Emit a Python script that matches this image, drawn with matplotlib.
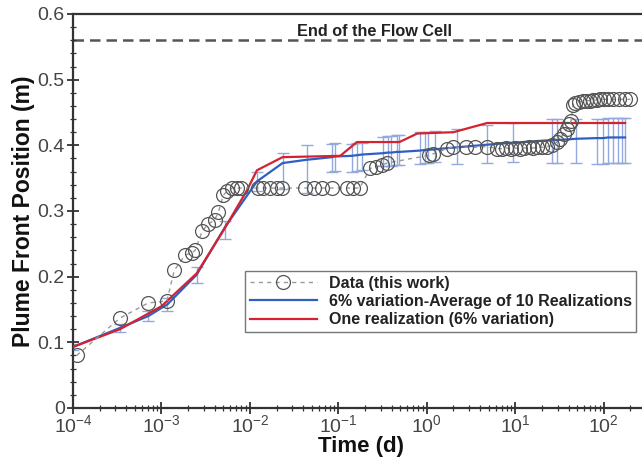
import matplotlib
matplotlib.use("Agg")
import matplotlib.pyplot as plt
from matplotlib.ticker import FixedLocator, LogLocator, MultipleLocator, LogFormatterMathtext, NullFormatter

plt.rcParams['font.family'] = ['Liberation Sans', 'DejaVu Sans']
plt.rcParams['mathtext.fontset'] = 'custom'
plt.rcParams['mathtext.rm'] = 'Liberation Sans'
plt.rcParams['mathtext.it'] = 'Liberation Sans'
plt.rcParams['mathtext.bf'] = 'Liberation Sans:bold'

# ---- data -------------------------------------------------------------
data_t = [1.1e-4, 3.4e-4, 7.1e-4, 1.15e-3, 1.4e-3, 1.86e-3, 2.2e-3, 2.4e-3, 2.9e-3, 3.4e-3,
          4.0e-3, 4.4e-3, 5.0e-3, 5.5e-3, 6.3e-3, 7.1e-3, 7.9e-3, 0.0123, 0.0141, 0.017,
          0.0204, 0.0229, 0.0417, 0.0537, 0.066, 0.085, 0.126, 0.145, 0.174, 0.229,
          0.269, 0.309, 0.355, 1.07, 1.17, 1.7, 2.0, 2.8, 3.5, 4.8,
          6.2, 7.1, 7.9, 8.9, 10.0, 11.2, 12.6, 14.1, 15.8, 17.8,
          20.0, 22.9, 26.3, 29.5, 31.6, 35.5, 38.0, 40.7, 42.7, 44.7,
          47.9, 52.5, 57.5, 63.0, 69.0, 76.0, 83.0, 91.0, 100.0, 112.0,
          126.0, 148.0, 174.0, 200.0]
data_y = [0.080, 0.137, 0.160, 0.163, 0.210, 0.233, 0.236, 0.240, 0.270, 0.280,
          0.287, 0.298, 0.324, 0.330, 0.335, 0.335, 0.335, 0.335, 0.335, 0.335,
          0.335, 0.335, 0.335, 0.335, 0.335, 0.335, 0.335, 0.335, 0.335, 0.365,
          0.367, 0.370, 0.373, 0.385, 0.387, 0.395, 0.397, 0.397, 0.397, 0.398,
          0.395, 0.395, 0.396, 0.395, 0.396, 0.395, 0.396, 0.397, 0.396, 0.397,
          0.397, 0.398, 0.400, 0.405, 0.410, 0.418, 0.425, 0.432, 0.437, 0.462,
          0.465, 0.466, 0.467, 0.468, 0.468, 0.469, 0.469, 0.470, 0.470, 0.470,
          0.470, 0.470, 0.470, 0.470]

avg_t = [1e-4, 3.4e-4, 7.1e-4, 1.17e-3, 2.5e-3, 5.2e-3, 0.012, 0.0234, 0.0437, 0.085,
         0.091, 0.141, 0.162, 0.186, 0.316, 0.363, 0.398, 0.457, 0.49, 0.83,
         0.95, 1.02, 1.23, 2.19, 4.8, 9.3, 26.3, 29.5, 49.0, 83.0,
         98.0, 112.0, 126.0, 145.0, 162.0, 174.0]
avg_y = [0.093, 0.122, 0.140, 0.158, 0.203, 0.275, 0.345, 0.373, 0.378, 0.382,
         0.383, 0.384, 0.385, 0.386, 0.388, 0.389, 0.389, 0.390, 0.390, 0.392,
         0.393, 0.393, 0.394, 0.397, 0.401, 0.404, 0.408, 0.408, 0.410, 0.411,
         0.411, 0.412, 0.412, 0.412, 0.412, 0.412]
avg_err_lo = [0.005, 0.006, 0.007, 0.010, 0.012, 0.017, 0.015, 0.040, 0.050, 0.022,
              0.022, 0.024, 0.024, 0.024, 0.020, 0.020, 0.020, 0.020, 0.020, 0.020,
              0.020, 0.020, 0.020, 0.025, 0.028, 0.030, 0.035, 0.035, 0.037, 0.039,
              0.039, 0.039, 0.039, 0.039, 0.039, 0.039]
avg_err_hi = [0.005, 0.006, 0.007, 0.010, 0.012, 0.010, 0.015, 0.015, 0.022, 0.020,
              0.020, 0.018, 0.018, 0.018, 0.025, 0.025, 0.025, 0.025, 0.025, 0.028,
              0.028, 0.028, 0.028, 0.028, 0.030, 0.030, 0.032, 0.032, 0.030, 0.029,
              0.029, 0.029, 0.029, 0.029, 0.029, 0.029]

one_t = [1e-4, 3.4e-4, 1.0e-3, 2.5e-3, 5.0e-3, 9.3e-3, 0.012, 0.0234, 0.105, 0.162,
         0.49, 0.78, 2.0, 4.8, 174.0]
one_y = [0.093, 0.120, 0.155, 0.205, 0.270, 0.332, 0.362, 0.382, 0.384, 0.405,
         0.405, 0.418, 0.420, 0.434, 0.434]

flow_cell_end = 0.56

x_ticks = [1e-4, 1e-3, 1e-2, 1e-1, 1e0, 1e1, 1e2]
y_ticks = [0.0, 0.1, 0.2, 0.3, 0.4, 0.5, 0.6]

labels = ["Data (this work)", "6% variation-Average of 10 Realizations",
          "One realization (6% variation)"]

# ---- figure -----------------------------------------------------------
W, H = 642, 458
fig = plt.figure(figsize=(W / 100, H / 100), dpi=100)
ax_left, ax_right = 73, 648
ax_bottom, ax_top = 408, 14
ax = fig.add_axes([ax_left / W, (H - ax_bottom) / H, (ax_right - ax_left) / W,
                   (ax_bottom - ax_top) / H])

ax.set_xscale('log')
ax.set_xlim(1e-4, 10 ** 2.5)
ax.set_ylim(0, 0.6)

blue = '#2f5fc4'
red = '#d4222e'

ax.errorbar(avg_t, avg_y, yerr=[avg_err_lo, avg_err_hi], fmt='none',
            ecolor='#93a9dd', elinewidth=1.0, capsize=4, capthick=1.0, zorder=2)
ax.plot(avg_t, avg_y, color=blue, lw=1.6, zorder=3, label=labels[1])
ax.plot(one_t, one_y, color=red, lw=1.6, zorder=4, label=labels[2])
ax.plot(data_t, data_y, color='#9a9a9a', ls=(0, (3, 3)), lw=1.0,
        marker='o', ms=10, mfc='none', mec='#555555', mew=0.9, zorder=5,
        label=labels[0])

ax.axhline(flow_cell_end, color='#555555', lw=1.8, ls=(0, (4.2, 2.4)), zorder=1)
ax.text(0.258, 0.574, "End of the Flow Cell", ha='center', va='center',
        fontsize=11.7, fontweight='bold', color='#222222')

# ticks
ax.xaxis.set_major_locator(FixedLocator(x_ticks))
ax.xaxis.set_minor_locator(LogLocator(base=10, subs=range(2, 10), numticks=20))
ax.xaxis.set_major_formatter(LogFormatterMathtext())
ax.xaxis.set_minor_formatter(NullFormatter())
ax.yaxis.set_major_locator(FixedLocator(y_ticks))
ax.yaxis.set_minor_locator(MultipleLocator(0.02))
ax.yaxis.set_major_formatter(plt.FuncFormatter(lambda v, p: "0" if abs(v) < 1e-9 else f"{v:.1f}"))

ax.tick_params(axis='both', which='major', direction='inout', length=8, width=1.3,
               labelsize=14, labelcolor='#444444', color='#333333', pad=2)
ax.tick_params(axis='x', which='major', pad=0.5)
ax.tick_params(axis='both', which='minor', direction='inout', length=4, width=0.9,
               color='#333333')
ax.tick_params(axis='x', which='both', top=False)
ax.tick_params(axis='y', which='both', right=False)

for s in ['left', 'bottom', 'top']:
    ax.spines[s].set_linewidth(1.6)
    ax.spines[s].set_color('#333333')
ax.spines['right'].set_visible(False)

ax.set_xlabel("Time (d)", fontsize=16, fontweight='bold', color='#111111')
ax.xaxis.set_label_coords(0.5, -0.07)
ax.set_ylabel("Plume Front Position (m)", fontsize=16.5, fontweight='bold', color='#111111')
ax.yaxis.set_label_coords(-0.066, 0.5)

handles, labs = ax.get_legend_handles_labels()
order = [2, 0, 1]
leg = ax.legend([handles[i] for i in order], [labs[i] for i in order],
                loc='upper left', bbox_to_anchor=((245 - ax_left) / (ax_right - ax_left),
                                                  (ax_bottom - 271) / (ax_bottom - ax_top)),
                fancybox=False, frameon=True, edgecolor='#777777', framealpha=1,
                prop={'weight': 'bold', 'size': 11.5}, handlelength=4.2, handletextpad=0.74,
                borderpad=0.3, labelspacing=0.2, borderaxespad=0, labelcolor='#222222')
leg.get_frame().set_linewidth(1.0)

fig.savefig("out.png", dpi=100)
